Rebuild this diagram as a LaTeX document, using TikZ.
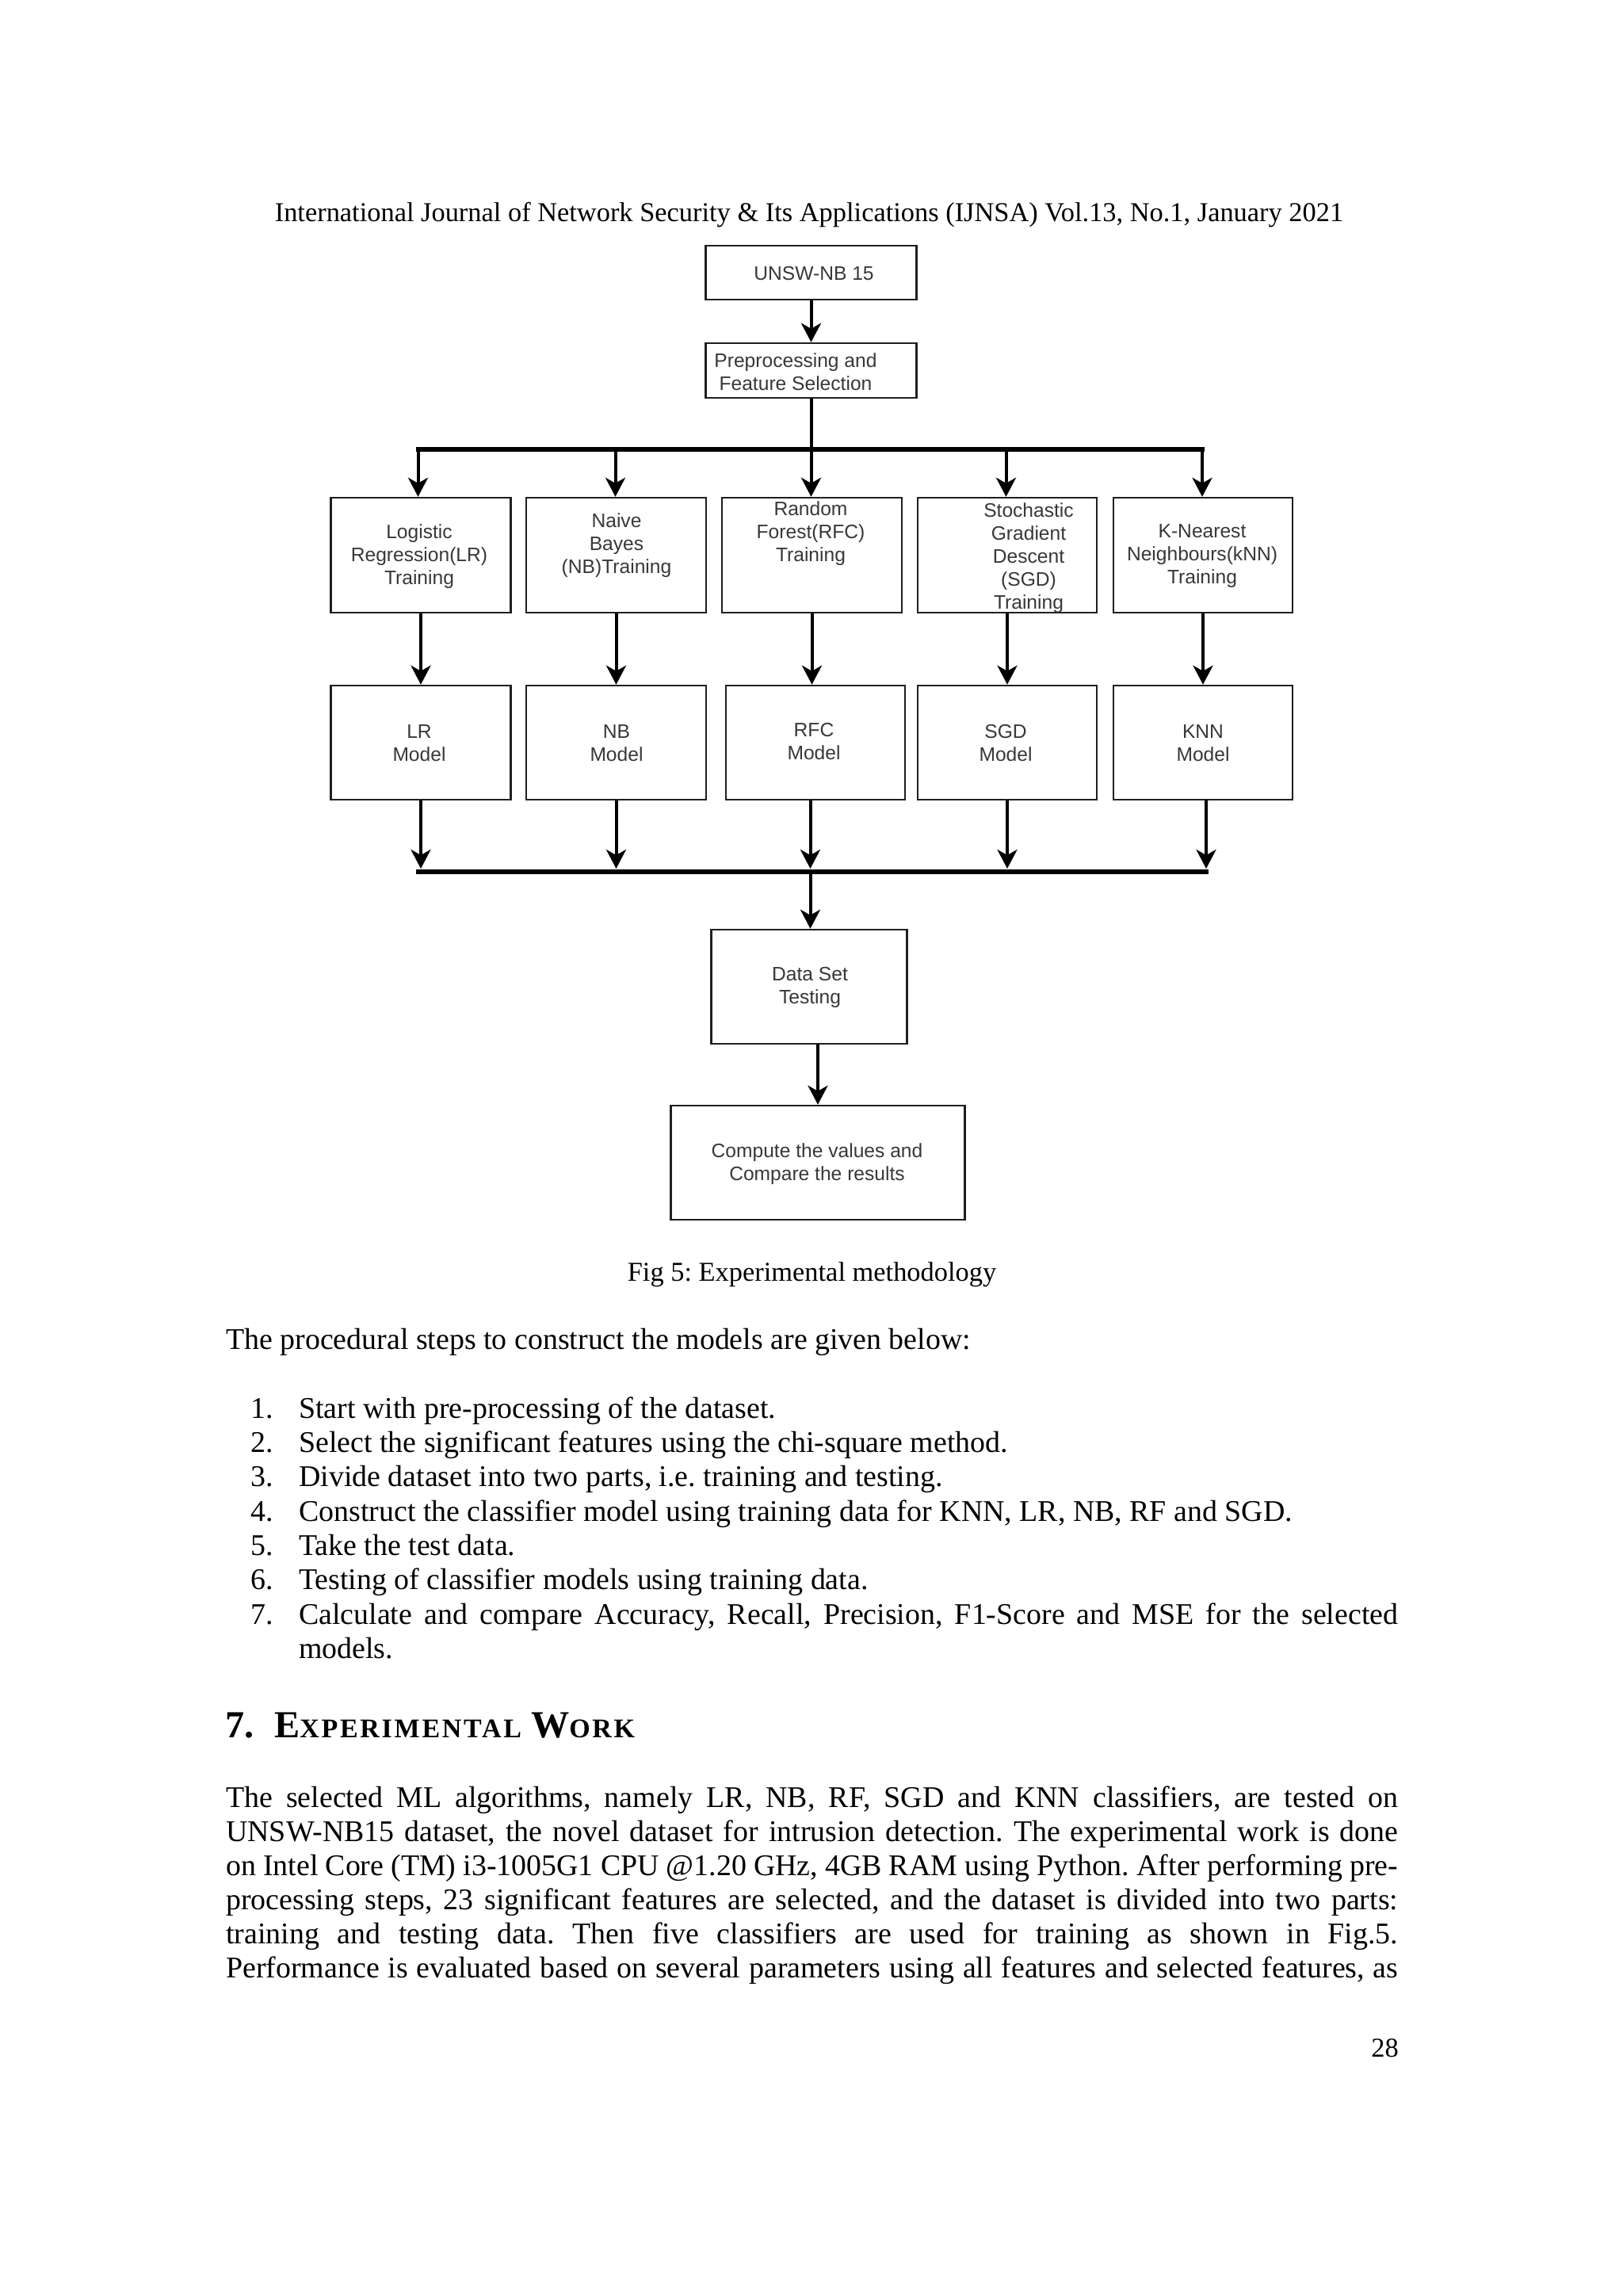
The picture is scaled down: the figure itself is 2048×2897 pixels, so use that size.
\documentclass[tikz,border=0pt]{standalone}
\usepackage{fontspec}
\setmainfont{Liberation Serif}
\newfontfamily\arialf{Liberation Sans}
\usetikzlibrary{arrows.meta}
\frenchspacing

\tikzset{
  box/.style={draw=black!88, line width=2.5pt, fill=white, inner sep=0pt},
  lbl/.style={font=\arialf\fontsize{24.6}{29}\selectfont, text=black!78, align=center, inner sep=0pt},
  conn/.style={draw=black, line width=4pt, -{Stealth[length=24pt,width=25pt,inset=7pt]}},
  plainline/.style={draw=black, line width=4pt},
  busline/.style={draw=black, line width=6.5pt},
  ptext/.style={font=\fontsize{37.9}{43.3}\selectfont, inner sep=0pt, anchor=base west},
  smalltext/.style={font=\fontsize{34.4}{40}\selectfont, inner sep=0pt},
}
\newcommand{\hsc}[1]{{\fontsize{34}{36}\selectfont\addfontfeatures{LetterSpace=8}#1}}

\begin{document}
\begin{tikzpicture}[x=1pt,y=-1pt]
\useasboundingbox (0,0) rectangle (2048,2897);
\fill[white] (0,0) rectangle (2048,2897);

% ---------- header ----------
\node[smalltext, anchor=base] (hdr) at (1021,279) {International Journal of Network Security \& Its Applications (IJNSA) Vol.13, No.1, January 2021};

% ---------- diagram boxes ----------
\node[box, minimum width=266pt, minimum height=68pt] (unsw) at (1023.5,344) {};
\node[box, minimum width=266pt, minimum height=69pt] (prep) at (1023.5,467.5) {};

\node[box, minimum width=227pt, minimum height=145pt] (t1) at (531,700.5) {};
\node[box, minimum width=227pt, minimum height=145pt] (t2) at (777.5,700.5) {};
\node[box, minimum width=227pt, minimum height=145pt] (t3) at (1024.5,700.5) {};
\node[box, minimum width=226pt, minimum height=145pt] (t4) at (1271,700.5) {};
\node[box, minimum width=226pt, minimum height=145pt] (t5) at (1518,700.5) {};

\node[box, minimum width=227pt, minimum height=144pt] (m1) at (531,937) {};
\node[box, minimum width=227pt, minimum height=144pt] (m2) at (777.5,937) {};
\node[box, minimum width=226pt, minimum height=144pt] (m3) at (1029,937) {};
\node[box, minimum width=226pt, minimum height=144pt] (m4) at (1271,937) {};
\node[box, minimum width=226pt, minimum height=144pt] (m5) at (1518,937) {};

\node[box, minimum width=247pt, minimum height=144pt] (ds) at (1021,1245) {};
\node[box, minimum width=371pt, minimum height=144pt] (cp) at (1032,1467) {};

% ---------- box texts ----------
\node[lbl] (unswtxt) at (1027,345) {UNSW-NB 15};
\node[lbl] (preptxt) at (1004,469) {Preprocessing and\\Feature Selection};
\node[lbl] (t1txt) at (529,702) {Logistic\\Regression(LR)\\Training};
\node[lbl] (t2txt) at (778,688) {Naive\\Bayes\\(NB)Training};
\node[lbl] (t3txt) at (1023,673) {Random\\Forest(RFC)\\Training};
\node[lbl] (t4txt) at (1298,704) {Stochastic\\Gradient\\Descent\\(SGD)\\Training};
\node[lbl] (t5txt) at (1517,702) {K-Nearest\\Neighbours(kNN)\\Training};

\node[lbl] (m1txt) at (529,938) {LR\\Model};
\node[lbl] (m2txt) at (778,938) {NB\\Model};
\node[lbl] (m3txt) at (1027,936) {RFC\\Model};
\node[lbl] (m4txt) at (1269,938) {SGD\\Model};
\node[lbl] (m5txt) at (1518,938) {KNN\\Model};

\node[lbl] (dstxt) at (1022,1246) {Data Set\\Testing};
\node[lbl] (cptxt) at (1031,1469) {Compute the values and\\Compare the results};

% ---------- connectors ----------
\coordinate (busT) at (1023.5,567);
\coordinate (busTL) at (525,567);
\coordinate (busTR) at (1520,567);
\coordinate (b1) at (527.5,567);
\coordinate (b2) at (776.5,567);
\coordinate (b3) at (1023.5,567);
\coordinate (b4) at (1269.5,567);
\coordinate (b5) at (1517,567);

\draw[conn] (unsw.south) -- (prep.north);
\draw[plainline] (prep.south) -- (busT);
\draw[busline] (busTL) -- (busTR);
\draw[conn] (b1) -- (b1 |- t1.north);
\draw[conn] (b2) -- (b2 |- t2.north);
\draw[conn] (b3) -- (b3 |- t3.north);
\draw[conn] (b4) -- (b4 |- t4.north);
\draw[conn] (b5) -- (b5 |- t5.north);

\draw[conn] (t1.south) -- (t1.south |- m1.north);
\draw[conn] (t2.south) -- (t2.south |- m2.north);
\draw[conn] (t3.south) -- (t3.south |- m3.north);
\draw[conn] (t4.south) -- (t4.south |- m4.north);
\draw[conn] (t5.south) -- (t5.south |- m5.north);

\coordinate (busBY) at (0,1096);
\coordinate (busBL) at (525,1100);
\coordinate (busBR) at (1525,1100);
\coordinate (busBC) at (1022.5,1100);
\draw[conn] (m1.south) -- (m1.south |- busBY);
\draw[conn] (m2.south) -- (m2.south |- busBY);
\draw[conn] (m3.south -| busBC) -- (busBC |- busBY);
\draw[conn] (m4.south) -- (m4.south |- busBY);
\coordinate (m5x) at (1522,1009);
\draw[conn] (m5x) -- (m5x |- busBY);
\draw[busline] (busBL) -- (busBR);

\draw[conn] (busBC) -- (busBC |- ds.north);
\draw[conn] (cp.north |- ds.south) -- (cp.north);

% ---------- caption and text ----------
\node[smalltext, anchor=base] (cap) at (1024.5,1616) {Fig 5: Experimental methodology};

\node[ptext] (intro) at (285,1702) {The procedural steps to construct the models are given below:};

\node[ptext] (n1) at (316,1789) {1.};
\node[ptext] (i1) at (377,1789) {Start with pre-processing of the dataset.};
\node[ptext] (n2) at (316,1832) {2.};
\node[ptext] (i2) at (377,1832) {Select the significant features using the chi-square method.};
\node[ptext] (n3) at (316,1875.5) {3.};
\node[ptext] (i3) at (377,1875.5) {Divide dataset into two parts, i.e. training and testing.};
\node[ptext] (n4) at (316,1919) {4.};
\node[ptext] (i4) at (377,1919) {Construct the classifier model using training data for KNN, LR, NB, RF and SGD.};
\node[ptext] (n5) at (316,1962) {5.};
\node[ptext] (i5) at (377,1962) {Take the test data.};
\node[ptext] (n6) at (316,2005.5) {6.};
\node[ptext] (i6) at (377,2005.5) {Testing of classifier models using training data.};
\node[ptext] (n7) at (316,2049) {7.};
\node[ptext] (i7) at (377,2049) {\makebox[1387pt][s]{Calculate and compare Accuracy, Recall, Precision, F1-Score and MSE for the selected}};
\node[ptext] (i7b) at (377,2092) {models.};

\node[anchor=base west, inner sep=0pt, font=\bfseries\fontsize{48.2}{52}\selectfont] (h7) at (284,2192) {7.};
\node[anchor=base west, inner sep=0pt, font=\bfseries\fontsize{48.2}{52}\selectfont] (hw) at (346,2192) {E\hsc{XPERIMENTAL} W\hsc{ORK}};

\node[ptext] (p1) at (285,2280) {\makebox[1479pt][s]{The selected ML algorithms, namely LR, NB, RF, SGD and KNN classifiers, are tested on}};
\node[ptext] (p2) at (285,2323) {\makebox[1479pt][s]{UNSW-NB15 dataset, the novel dataset for intrusion detection. The experimental work is done}};
\node[ptext] (p3) at (285,2366) {\makebox[1479pt][s]{on Intel Core (TM) i3-1005G1 CPU @1.20 GHz, 4GB RAM using Python. After performing pre-}};
\node[ptext] (p4) at (285,2409) {\makebox[1479pt][s]{processing steps, 23 significant features are selected, and the dataset is divided into two parts:}};
\node[ptext] (p5) at (285,2452) {\makebox[1479pt][s]{training and testing data. Then five classifiers are used for training as shown in Fig.5.}};
\node[ptext] (p6) at (285,2495) {\makebox[1479pt][s]{Performance is evaluated based on several parameters using all features and selected features, as}};

\node[smalltext, anchor=base east] (pg) at (1765,2595) {28};
\end{tikzpicture}
\end{document}
